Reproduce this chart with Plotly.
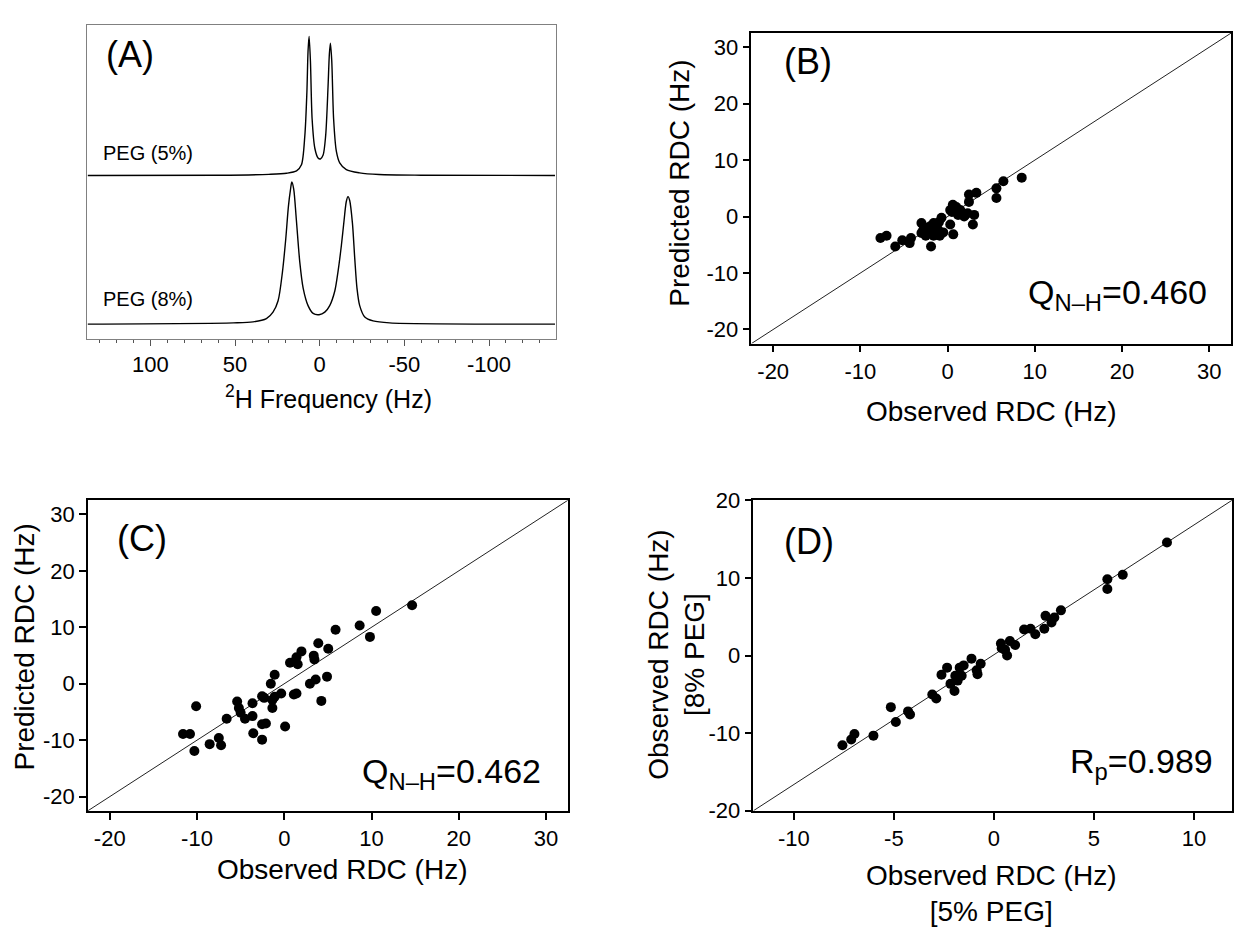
import plotly.graph_objects as go

W, H = 1234, 935

# ---------------- data ----------------
# Panel A: 2H spectra (frequency in Hz, intensity above baseline, arbitrary units)
freq_5 = [137, 60, 30, 19.6, 13.7, 10.8, 8.8, 7.6, 6.9, 6.3, 5.5, 4.5, 2.9, 1.0, -0.4,
          -2.0, -3.5, -4.9, -5.7, -6.3, -7.1, -8.2, -9.8, -11.8, -15.7, -23.5, -35, -60, -139]
int_5 = [0, 0.3, 1.2, 2.3, 4.7, 11, 41, 85, 128, 143, 118, 58, 28, 18, 17,
         21, 41, 91, 125, 136, 118, 58, 25, 13, 6, 2.7, 1, 0.3, 0]
freq_8 = [137, 51, 39.4, 31.5, 27.6, 24.6, 22, 20.1, 18.5, 17.3, 16.5, 15.4, 13.8, 11.8, 9.8,
          6.9, 3.9, 0.4, -3, -5.9, -8.9, -10.8, -12.8, -14.4, -15.7, -16.7, -17.7, -19.3,
          -20.7, -22, -23.6, -26.6, -31.5, -41.3, -139]
int_8 = [0, 1.3, 2.3, 5.7, 12.3, 24, 54, 87, 121, 138, 146, 139, 107, 64, 37,
         19, 11, 9.7, 12.3, 19, 34, 54, 81, 107, 126, 131, 127, 104,
         67, 37, 19, 7.3, 3.3, 1.3, 0]
spec_labels = ["PEG (5%)", "PEG (8%)"]
a_ticks = [100, 50, 0, -50, -100]

# Panel B: observed vs predicted RDC (Hz)
obs_B = [-7.7, -7.0, -6.0, -5.2, -4.35, -4.2, -3.0, -3.0, -2.5, -2.0, -1.9, -1.6, -1.6, -1.1,
         -0.9, -0.7, -2.5, -2.0, 0.3, 0.65, 0.3, 0.6, 1.0, 1.2, 1.45, 1.9, 2.3, 2.45, 2.45,
         3.05, 2.9, 3.3, 5.6, 5.6, 6.4, 8.5, -2.8, -2.2, -1.4, -0.5, 0.8, 1.6, 2.0, 0.5, -1.0]
pred_B = [-3.8, -3.4, -5.3, -4.2, -4.7, -3.8, -1.15, -2.9, -2.0, -1.7, -5.3, -1.15, -3.4, -2.3,
          -3.4, -0.2, -3.4, -2.9, -1.4, -3.15, 1.15, 2.1, 1.7, 0.3, 1.15, 0.0, 0.6, 2.6, 3.9,
          0.3, -1.4, 4.2, 5.0, 3.3, 6.25, 6.9, -2.4, -2.6, -1.6, -2.8, 1.3, 0.6, 0.3, 0.8, -1.0]

# Panel C
obs_C = [-11.6, -10.8, -10.3, -10.1, -8.55, -7.5, -7.24, -6.6, -5.4, -5.2, -5.0, -4.5, -3.64,
         -3.64, -3.55, -2.54, -2.3, -2.54, -2.1, -2.54, -1.54, -1.36, -1.36, -1.1, -1.1, -0.35,
         0.1, 0.66, 1.1, 1.4, 1.4, 1.54, 1.97, 2.94, 3.38, 3.46, 3.6, 3.9, 4.25, 4.9, 5.04,
         5.88, 8.64, 9.82, 10.53, 14.65]
pred_C = [-8.9, -8.9, -11.9, -4.0, -10.7, -9.6, -10.9, -6.2, -3.15, -4.3, -5.15, -6.2, -3.44,
          -5.73, -8.76, -2.2, -2.5, -7.16, -7.04, -9.9, 0.0, -2.86, -4.3, 1.6, -2.3, -1.72,
          -7.56, 3.72, -1.9, -1.72, 4.7, 3.44, 5.73, 0.0, 4.98, 4.3, 0.74, 7.16, -3.04, 1.26,
          6.19, 9.56, 10.31, 8.3, 12.89, 13.92]

# Panel D: observed RDC at 5% PEG vs 8% PEG (Hz)
obs5_D = [-7.57, -7.13, -6.97, -6.02, -5.15, -4.9, -4.29, -4.19, -3.08, -2.88, -2.62, -2.34,
          -2.17, -1.97, -1.93, -1.81, -1.71, -1.61, -1.51, -1.12, -0.86, -0.82, -0.66, 0.35,
          0.39, 0.56, 0.66, 0.8, 1.06, 1.51, 1.83, 2.07, 2.52, 2.58, 2.88, 3.02, 3.35, 5.67,
          5.67, 6.44, 8.65]
obs8_D = [-11.57, -10.82, -10.11, -10.32, -6.65, -8.57, -7.2, -7.61, -5.03, -5.53, -2.48, -1.56,
          -3.65, -4.57, -2.61, -3.23, -1.56, -2.61, -1.27, -0.4, -1.9, -2.4, -1.06, 1.56,
          0.94, 0.73, 0.0, 1.86, 1.36, 3.36, 3.44, 2.73, 3.44, 5.11, 4.27, 4.9, 5.82, 9.82,
          8.57, 10.4, 14.57]

rdc_ticks = [-20, -10, 0, 10, 20, 30]
d_xticks = [-10, -5, 0, 5, 10]
d_yticks = [-20, -10, 0, 10, 20]
stats = ["Q<sub>N\u2013H</sub>=0.460", "Q<sub>N\u2013H</sub>=0.462", "R<sub>p</sub>=0.989"]

# ---------------- helpers ----------------
def fx(px):
    return px / W

def fy(py):
    return 1 - py / H

def labels(vals):
    return [str(v) for v in vals]  # plain hyphen minus like the original

FONT = "Arial, Liberation Sans, Helvetica, sans-serif"
fig = go.Figure()

# ---------- Panel A ----------
base5, base8 = 167.7, 15.0
fig.add_trace(go.Scatter(x=freq_5, y=[base5 + v for v in int_5], mode="lines",
                         line=dict(color="black", width=1.4, shape="spline", smoothing=0.8),
                         xaxis="x", yaxis="y", showlegend=False, hoverinfo="skip"))
fig.add_trace(go.Scatter(x=freq_8, y=[base8 + v for v in int_8], mode="lines",
                         line=dict(color="black", width=1.4, shape="spline", smoothing=0.8),
                         xaxis="x", yaxis="y", showlegend=False, hoverinfo="skip"))

# ---------- scatter panels ----------
def diag(xr, yr, xa, ya):
    fig.add_trace(go.Scatter(x=xr, y=yr, mode="lines", line=dict(color="#222", width=1),
                             xaxis=xa, yaxis=ya, showlegend=False, hoverinfo="skip"))

def dots(x, y, xa, ya):
    fig.add_trace(go.Scatter(x=x, y=y, mode="markers",
                             marker=dict(color="black", size=10, line=dict(width=0)),
                             xaxis=xa, yaxis=ya, showlegend=False))

RB = [-22.5, 32.5]
diag(RB, RB, "x2", "y2")
dots(obs_B, pred_B, "x2", "y2")
diag(RB, RB, "x3", "y3")
dots(obs_C, pred_C, "x3", "y3")
DX = [-12.02, 11.9]
DY = [-20, 20]
diag(DX, DY, "x4", "y4")
dots(obs5_D, obs8_D, "x4", "y4")

tickfont = dict(family=FONT, size=22, color="black")
frame = dict(showline=True, mirror=True, linecolor="black", linewidth=1.5, ticks="outside",
             ticklen=7, tickwidth=1.5, tickcolor="black", showgrid=False, zeroline=False,
             tickfont=tickfont, fixedrange=True)

layout = dict(
    width=W, height=H, margin=dict(l=0, r=0, t=0, b=0),
    paper_bgcolor="white", plot_bgcolor="white", showlegend=False,
    font=dict(family=FONT, color="black"),
    xaxis=dict(domain=[fx(86.7), fx(556)], range=[137.7, -139.3], anchor="y",
               showline=True, mirror=True, linecolor="#808080", linewidth=1.3,
               ticks="outside", ticklen=6, tickwidth=1.2, tickcolor="#555",
               tickvals=a_ticks, ticktext=labels(a_ticks),
               tickfont=dict(family=FONT, size=22, color="black"),
               minor=dict(dtick=10, ticks="outside", ticklen=3, tickcolor="#555", tickwidth=1),
               showgrid=False, zeroline=False, fixedrange=True),
    yaxis=dict(domain=[fy(335.7), fy(13)], range=[0, 322.7], anchor="x",
               showline=True, mirror=True, linecolor="#808080", linewidth=1.3,
               showticklabels=False, ticks="", showgrid=False, zeroline=False, fixedrange=True),
    xaxis2=dict(domain=[fx(752), fx(1232)], range=RB, anchor="y2", tickvals=rdc_ticks,
                ticktext=labels(rdc_ticks), **frame),
    yaxis2=dict(domain=[fy(340.7), fy(21.7)], range=RB, anchor="x2", tickvals=rdc_ticks,
                ticktext=labels(rdc_ticks), **frame),
    xaxis3=dict(domain=[fx(88), fx(568.3)], range=RB, anchor="y3", tickvals=rdc_ticks,
                ticktext=labels(rdc_ticks), **frame),
    yaxis3=dict(domain=[fy(820.7), fy(501.7)], range=RB, anchor="x3", tickvals=rdc_ticks,
                ticktext=labels(rdc_ticks), **frame),
    xaxis4=dict(domain=[fx(754), fx(1233)], range=DX, anchor="y4", tickvals=d_xticks,
                ticktext=labels(d_xticks), **frame),
    yaxis4=dict(domain=[fy(820.7), fy(501.7)], range=DY, anchor="x4", tickvals=d_yticks,
                ticktext=labels(d_yticks), **frame),
)
fig.update_layout(**layout)

def note(text, px, py, size, xanchor="center", yanchor="middle", angle=0):
    fig.add_annotation(text=text, x=fx(px), y=fy(py), xref="paper", yref="paper",
                       showarrow=False, xanchor=xanchor, yanchor=yanchor, textangle=angle,
                       font=dict(family=FONT, size=size, color="black"))

# panel letters
note("(A)", 130, 44, 36)
note("(B)", 809, 51, 36)
note("(C)", 142, 541, 36)
note("(D)", 810, 544, 36)

# panel A texts
note(spec_labels[0], 101, 145, 20, xanchor="left")
note(spec_labels[1], 101, 295, 20, xanchor="left")
note("<sup>2</sup>H Frequency (Hz)", 329, 396, 25)

# axis titles
note("Observed RDC (Hz)", 992, 410, 28)
note("Predicted RDC (Hz)", 680, 176, 28, angle=-90)
note("Observed RDC (Hz)", 342, 881, 28)
note("Predicted RDC (Hz)", 25, 652, 28, angle=-90)
note("Observed RDC (Hz)<br>[5% PEG]", 992, 906, 28)
note("Observed RDC (Hz)<br>[8% PEG]", 677, 660, 28, angle=-90)

# statistics
note(stats[0], 1210, 290, 34, xanchor="right")
note(stats[1], 543, 782, 34, xanchor="right")
note(stats[2], 1216, 772, 34, xanchor="right")

fig.write_html("out.html", config={"displayModeBar": False},
               post_script="document.body.style.margin='0';document.body.style.overflow='hidden';")
